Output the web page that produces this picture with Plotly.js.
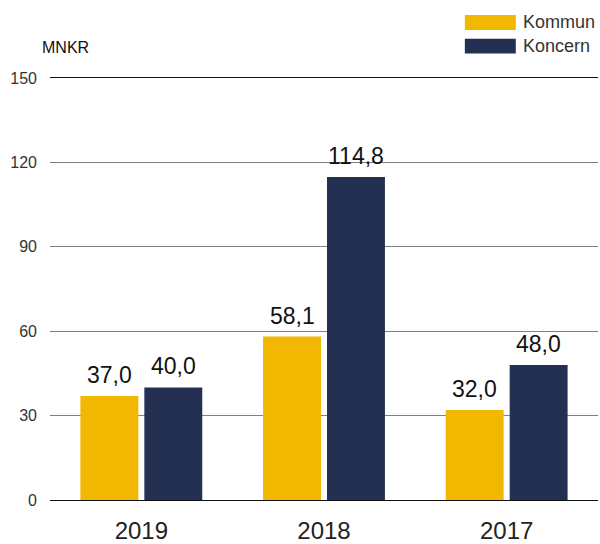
<!DOCTYPE html>
<html>
<head>
<meta charset="utf-8">
<script src="https://cdn.plot.ly/plotly-3.0.1.min.js"></script>
<style>
  html, body { margin: 0; padding: 0; background: #fff; }
  #chart { width: 600px; height: 544px; }
</style>
</head>
<body>
<div id="chart"></div>
<script>
// Data (MNKR)
const years = ['2019', '2018', '2017'];
const kommun = [37.0, 58.1, 32.0];
const koncern = [40.0, 114.8, 48.0];
const seriesNames = ['Kommun', 'Koncern'];
const yTicks = [0, 30, 60, 90, 120, 150];

const colors = ['#F2B700', '#243052'];
const font = 'Liberation Sans, Arial, sans-serif';

function barTrace(name, values, color) {
    return {
        type: 'bar',
        name: name,
        x: years,
        y: values,
        marker: { color: color },
        hoverinfo: 'x+y'
    };
}

const traces = [
    barTrace(seriesNames[0], kommun, colors[0]),
    barTrace(seriesNames[1], koncern, colors[1])
];

// value labels above each bar (category index on the x axis, nudged to the bar in its group)
function fmt(v) { return v.toFixed(1).replace('.', ','); }
const valueLabels = [];
[kommun, koncern].forEach((vals, s) => {
    vals.forEach((v, i) => {
        valueLabels.push({
            text: fmt(v), x: i, y: v, xref: 'x', yref: 'y',
            xanchor: 'center', yanchor: 'bottom', showarrow: false,
            xshift: s === 0 ? -32 : 32, yshift: 6,
            font: { family: font, size: 23, color: '#111' }
        });
    });
});

// hand-made legend with wide swatches, like the reference
const legendShapes = seriesNames.map((n, i) => ({
    type: 'rect', xref: 'paper', yref: 'paper',
    x0: 0.757, x1: 0.850,
    y0: 1.114 - i * 0.056, y1: 1.149 - i * 0.056,
    fillcolor: colors[i], line: { width: 0 }
}));
const legendLabels = seriesNames.map((n, i) => ({
    text: n, xref: 'paper', yref: 'paper',
    x: 0.859, y: 1.132 - i * 0.056,
    xanchor: 'left', yanchor: 'middle', showarrow: false,
    font: { family: font, size: 18, color: '#333' }
}));

const layout = {
    width: 600,
    height: 544,
    margin: { l: 50, r: 2, t: 78, b: 44 },
    paper_bgcolor: '#fff',
    plot_bgcolor: '#fff',
    showlegend: false,
    barmode: 'group',
    bargap: 0.30,
    bargroupgap: 0.094,
    font: { family: font, color: '#333' },
    xaxis: {
        type: 'category',
        categoryorder: 'array',
        categoryarray: years,
        range: [-0.5, years.length - 0.5],
        showgrid: false,
        showline: true,
        mirror: true,
        linecolor: '#111',
        linewidth: 1,
        ticks: '',
        tickfont: { family: font, size: 24, color: '#222' },
        ticklabelstandoff: 9,
        fixedrange: true
    },
    yaxis: {
        range: [0, 150],
        tickvals: yTicks,
        showgrid: true,
        gridcolor: '#808080',
        gridwidth: 1,
        zeroline: true,
        zerolinecolor: '#111',
        zerolinewidth: 1,
        showline: false,
        ticks: '',
        tickfont: { family: font, size: 16, color: '#333' },
        ticklabelstandoff: 12,
        fixedrange: true
    },
    shapes: legendShapes,
    annotations: [
        {
            text: 'MNKR', xref: 'paper', yref: 'paper',
            x: -0.018, y: 1.073, xanchor: 'left', yanchor: 'middle',
            showarrow: false,
            font: { family: font, size: 16, color: '#111' }
        }
    ].concat(legendLabels, valueLabels)
};

Plotly.newPlot('chart', traces, layout, { displayModeBar: false, staticPlot: true });
</script>
</body>
</html>
